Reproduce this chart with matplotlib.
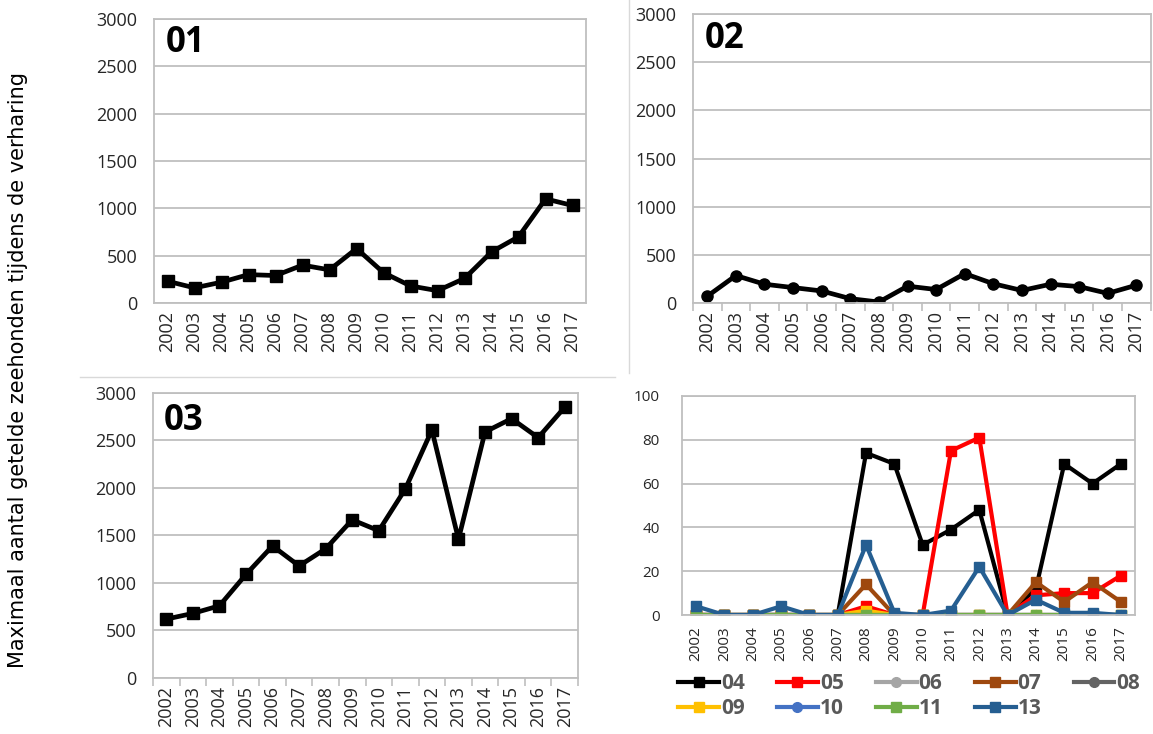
import numpy as np
import matplotlib
matplotlib.use("Agg")
from matplotlib import pyplot as plt
from matplotlib.lines import Line2D

years = [str(y) for y in range(2002, 2018)]

# panels 01-03 (counts)
area01 = [230, 160, 220, 300, 290, 400, 350, 575, 320, 180, 130, 260, 540, 700, 1100, 1030]
area02 = [70, 285, 195, 160, 125, 45, 10, 175, 140, 305, 200, 130, 195, 170, 100, 185]
area03 = [620, 680, 760, 1090, 1390, 1180, 1360, 1665, 1550, 1990, 2610, 1460, 2590, 2730, 2530, 2850]

# small areas (bottom right)
s04 = [0, 0, 0, 0, 0, 0, 74, 69, 32, 39, 48, 0, 12, 69, 60, 69]
s05 = [0, 0, 0, 0, 0, 0, 4, 0, 0, 75, 81, 0, 9, 10, 10, 18]
s06 = [0] * 16
s07 = [0, 0, 0, 0, 0, 0, 14, 0, 0, 0, 0, 0, 15, 6, 15, 6]
s08 = [0] * 16
s09 = [0, 0, 0, 0, 0, 0, 2, 0, 0, 0, 0, 0, 0, 0, 0, 0]
s10 = [0] * 16
s11 = [0] * 16
s13 = [4, 0, 0, 4, 0, 0, 32, 1, 0, 2, 22, 0, 7, 1, 1, 0]

small_names = ["04", "05", "06", "07", "08", "09", "10", "11", "13"]
small_data = [s04, s05, s06, s07, s08, s09, s10, s11, s13]
small_colors = ["#000000", "#FF0000", "#A5A5A5", "#9E480E", "#636363",
                "#FFC000", "#4472C4", "#70AD47", "#255E91"]
small_markers = ["s", "s", "o", "s", "o", "s", "o", "s", "s"]

plt.rcParams['font.family'] = ['Open Sans', 'DejaVu Sans']
GRID = "#BFBFBF"
TXT = "#262626"

fig = plt.figure(figsize=(11.53, 7.34), dpi=100)
x = np.arange(len(years))


def style_axis(ax, ymax, ystep, fs, ticks=True):
    ax.set_xlim(-0.5, len(years) - 0.5)
    ax.set_ylim(0, ymax)
    ax.set_yticks(np.arange(0, ymax + 1, ystep))
    ax.set_xticks(x)
    ax.set_xticklabels(years, rotation=90, fontsize=fs, color=TXT)
    ax.tick_params(axis='y', length=0, labelsize=fs, labelcolor=TXT, pad=12)
    ax.tick_params(axis='x', which='major', length=0, pad=6)
    if ticks:
        ax.set_xticks(np.arange(-0.5, len(years)), minor=True)
        ax.tick_params(axis='x', which='minor', length=6, color=GRID, width=1.2)
    ax.grid(axis='y', color=GRID, lw=1.3)
    ax.set_axisbelow(True)
    for s in ax.spines.values():
        s.set_color(GRID)
        s.set_linewidth(1.3)


ax1 = fig.add_axes([0.1336, 0.5872, 0.3747, 0.3869])
ax1.plot(x, area01, color="black", lw=3.4, marker="s", ms=9)
style_axis(ax1, 3000, 500, 13, ticks=False)
ax1.text(0.026, 0.98, "01", transform=ax1.transAxes, fontsize=25,
         fontweight="bold", va="top", ha="left")

ax2 = fig.add_axes([0.601, 0.5872, 0.397, 0.3937])
ax2.plot(x, area02, color="black", lw=3.4, marker="o", ms=8)
style_axis(ax2, 3000, 500, 13)
ax2.text(0.026, 0.975, "02", transform=ax2.transAxes, fontsize=25,
         fontweight="bold", va="top", ha="left")

ax3 = fig.add_axes([0.1327, 0.0763, 0.3686, 0.3883])
ax3.plot(x, area03, color="black", lw=3.4, marker="s", ms=9)
style_axis(ax3, 3000, 500, 13)
ax3.text(0.026, 0.965, "03", transform=ax3.transAxes, fontsize=25,
         fontweight="bold", va="top", ha="left")

ax4 = fig.add_axes([0.5915, 0.1621, 0.3929, 0.2984])
handles = []
for name, vals, c, m in zip(small_names, small_data, small_colors, small_markers):
    h, = ax4.plot(x, vals, color=c, lw=3, marker=m, ms=7, label=name)
    handles.append(h)
style_axis(ax4, 100, 20, 11, ticks=False)
ax4.tick_params(axis='y', pad=16)
ax4.tick_params(axis='x', which='major', pad=8)

# legend shown row by row: reorder for matplotlib's column filling
order = [0, 5, 1, 6, 2, 7, 3, 8, 4]
leg = fig.legend([handles[i] for i in order], [small_names[i] for i in order],
                 ncol=5, loc="upper left", bbox_to_anchor=(0.572, 0.108),
                 frameon=False, handlelength=1.95, handletextpad=0.1,
                 columnspacing=1.55, labelspacing=0.18,
                 prop={'weight': 'bold', 'size': 15})
for t in leg.get_texts():
    t.set_color("#595959")

fig.text(0.016, 0.496, "Maximaal aantal getelde zeehonden tijdens de verharing",
         rotation=90, va="center", ha="center", fontsize=15,
         family="DejaVu Sans", color="#000000")

# separators from the original layout
fig.add_artist(Line2D([629 / 1153, 629 / 1153], [1, 1 - 373 / 734],
                      color="#D9D9D9", lw=1))
fig.add_artist(Line2D([80 / 1153, 615 / 1153], [1 - 377 / 734, 1 - 377 / 734],
                      color="#D9D9D9", lw=1))

fig.savefig("out.png", dpi=100)
